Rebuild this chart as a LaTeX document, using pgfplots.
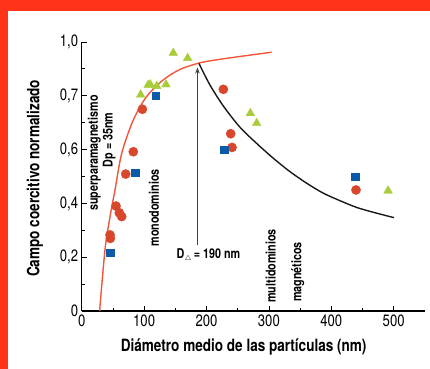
\documentclass[border=0pt]{standalone}
\usepackage{fontspec}
\setmainfont{TeX Gyre Heros}[FakeStretch=0.8]
\usepackage{pgfplots}
\pgfplotsset{compat=1.18}
\usetikzlibrary{arrows.meta}
\definecolor{band}{HTML}{FF3318}
\definecolor{cred}{HTML}{D8472B}
\definecolor{cblue}{HTML}{0B5BAA}
\definecolor{cgreen}{HTML}{A9CC3A}
\definecolor{credline}{HTML}{F2553A}
\begin{document}
\begin{tikzpicture}
\useasboundingbox (0,0) rectangle (430bp,369bp);
\fill[white] (0,0) rectangle (430bp,369bp);
\fill[band] (0,358.3bp) rectangle (430bp,369bp);
\fill[band] (0,0) rectangle (7.5bp,369bp);
\begin{axis}[
 at={(81.7bp,58bp)}, anchor=south west,
 scale only axis, width=343.2bp, height=269bp,
 xmin=0, xmax=550, ymin=0, ymax=1,
 axis lines=left, axis line style={-, line width=1.1pt},
 xtick={0,100,200,300,400,500}, xticklabels={0,100,200,300,400,500},
 ytick={0,0.2,0.4,0.6,0.8,1}, yticklabels={0,{0,2},{0,4},{0,6},{0,7},{1,0}},
 minor x tick num=1, minor y tick num=1,
 tick align=inside, major tick length=5bp, minor tick length=3bp,
 tick style={black, line width=0.8pt},
 ticklabel style={font=\fontsize{16.5}{18}\selectfont},
 xlabel={Diámetro medio de las partículas (nm)},
 ylabel={Campo coercitivo normalizado},
 label style={font=\bfseries\fontsize{17}{20}\selectfont},
 xlabel style={at={(axis description cs:0.472,-0.1327)}, anchor=center},
 ylabel style={at={(axis description cs:-0.136,0.493)}, anchor=center},
 clip=false,
]
\addplot[credline, smooth, line width=1.4pt] coordinates {
 (28.7,0) (37.3,0.227) (45.4,0.351) (53.4,0.45) (64.1,0.586) (82.7,0.710)
 (104,0.797) (130.8,0.859) (157.5,0.898) (189.6,0.923) (205.6,0.930)
 (250,0.945) (304.5,0.962)};
\addplot[black!90, smooth, line width=1.4pt] coordinates {
 (188,0.92) (205.6,0.84) (227,0.762) (253.7,0.683) (280.4,0.623) (307,0.568)
 (333.8,0.518) (360.6,0.475) (387.2,0.438) (414,0.410) (440.7,0.385)
 (467.3,0.367) (500.5,0.347)};
\addplot[only marks, mark=*, mark size=4.6bp, mark options={draw=cred, fill=cred}] coordinates {
 (45.4,0.283) (45.9,0.270) (55,0.390) (60.3,0.365) (64.1,0.351) (70.5,0.509)
 (82.7,0.592) (97.2,0.750) (227,0.824) (238.8,0.659) (240.9,0.608) (439.6,0.450)};
\addplot[only marks, mark=square*, mark size=3.7bp, mark options={draw=cblue, fill=cblue}] coordinates {
 (45.4,0.217) (85.6,0.514) (118.4,0.800) (228.3,0.600) (438.5,0.499)};
\addplot[only marks, mark=triangle*, mark size=5bp, mark options={draw=cgreen, fill=cgreen}] coordinates {
 (94.5,0.804) (106.5,0.840) (110,0.842) (120.2,0.836) (135.1,0.842)
 (146.8,0.959) (169.8,0.940) (270.3,0.735) (280.4,0.698) (491,0.447)};
\draw[-{Stealth[length=6bp,width=4.5bp]}, black!75, line width=0.9pt]
 (axis cs:185.5,0.245) -- (axis cs:185.5,0.905);
\begin{scope}[every node/.style={font=\bfseries\fontsize{13.5}{15}\selectfont, rotate=90, anchor=center, inner sep=0pt}]
\node at (axis cs:20.2,0.587) {superparamagnetismo};
\node at (axis cs:44.2,0.636) {Dp = 35nm};
\node at (axis cs:115.9,0.383) {monodominios};
\node at (axis cs:302.9,0.168) {multidominios};
\node at (axis cs:346.2,0.145) {magnéticos};
\end{scope}
\node[font=\bfseries\fontsize{13.5}{15}\selectfont, anchor=west, inner sep=0pt] at (axis cs:152,0.208) {D\raisebox{-0.35ex}{$\scriptscriptstyle\triangle$}\,= 190 nm};
\end{axis}
\end{tikzpicture}
\end{document}
